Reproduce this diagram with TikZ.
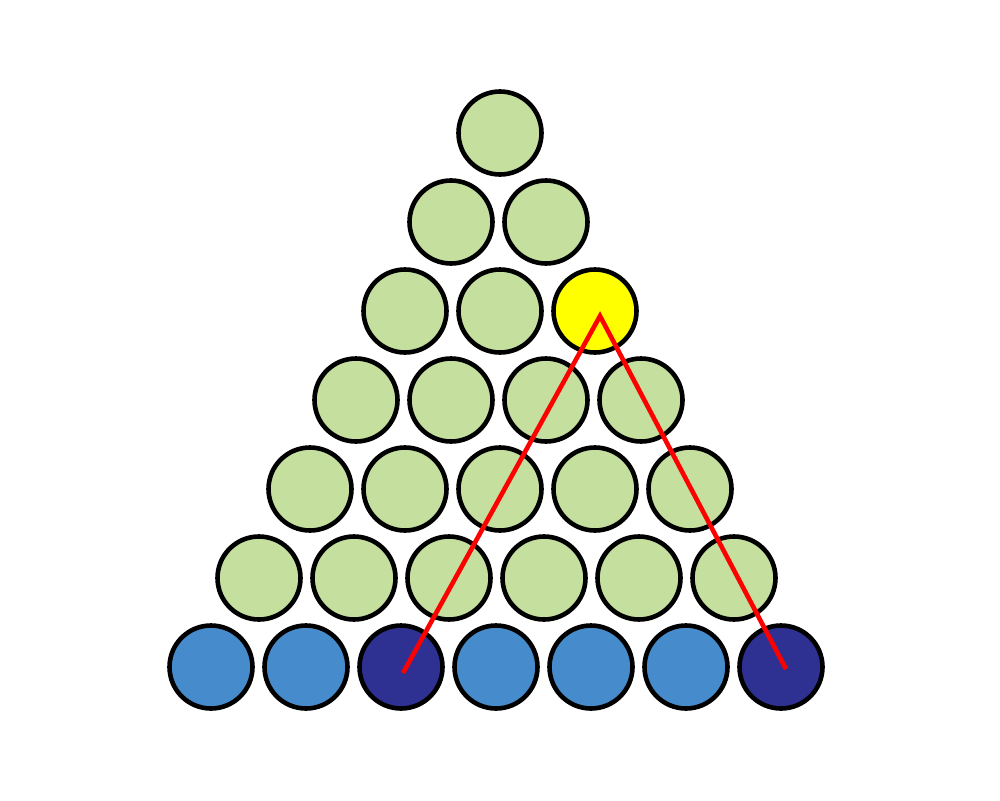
\documentclass[tikz,border=0pt]{standalone}
\begin{document}
\begin{tikzpicture}[x=1pt,y=-1pt,
  ball/.style={circle,draw=black,line width=4.6pt,minimum size=83pt,inner sep=0pt},
  greenball/.style={ball,fill=lgreen},
  blueball/.style={ball,fill=lblue},
  navyball/.style={ball,fill=navy},
  yellowball/.style={ball,fill=yel},
  redline/.style={draw=rd,line width=4.6pt,line join=miter}]
\definecolor{lgreen}{HTML}{C5DF9F}
\definecolor{lblue}{HTML}{468BCB}
\definecolor{navy}{HTML}{2E3192}
\definecolor{yel}{HTML}{FFFF00}
\definecolor{rd}{HTML}{FF0000}
\useasboundingbox (0,0) rectangle (1000,800);
% row 1
\node[greenball] (r1a) at (500,133) {};
% row 2
\node[greenball] (r2a) at (451,222) {};
\node[greenball] (r2b) at (546,222) {};
% row 3
\node[greenball] (r3a) at (405,311) {};
\node[greenball] (r3b) at (500,311) {};
\node[yellowball] (r3c) at (595,311) {};
% row 4
\node[greenball] (r4a) at (356,400) {};
\node[greenball] (r4b) at (451,400) {};
\node[greenball] (r4c) at (546,400) {};
\node[greenball] (r4d) at (641,400) {};
% row 5
\node[greenball] (r5a) at (310,489) {};
\node[greenball] (r5b) at (405,489) {};
\node[greenball] (r5c) at (500,489) {};
\node[greenball] (r5d) at (595,489) {};
\node[greenball] (r5e) at (690,489) {};
% row 6
\node[greenball] (r6a) at (259,578) {};
\node[greenball] (r6b) at (354,578) {};
\node[greenball] (r6c) at (449,578) {};
\node[greenball] (r6d) at (544,578) {};
\node[greenball] (r6e) at (639,578) {};
\node[greenball] (r6f) at (734,578) {};
% row 7
\node[blueball] (r7a) at (211,667) {};
\node[blueball] (r7b) at (306,667) {};
\node[navyball] (r7c) at (401,667) {};
\node[blueball] (r7d) at (496,667) {};
\node[blueball] (r7e) at (591,667) {};
\node[blueball] (r7f) at (686,667) {};
\node[navyball] (r7g) at (781,667) {};
% red path
\coordinate (pL) at ([shift={(2,6)}]r7c.center);
\coordinate (pT) at ([shift={(5,5)}]r3c.center);
\coordinate (pR) at ([shift={(5,2)}]r7g.center);
\draw[redline] (pL) -- (pT) -- (pR);
\end{tikzpicture}
\end{document}
